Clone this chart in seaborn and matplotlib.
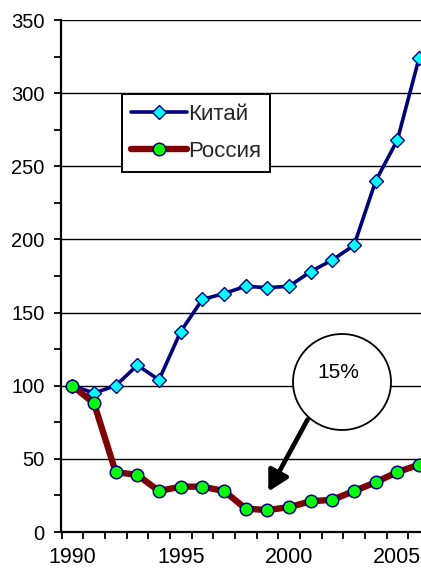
import matplotlib
matplotlib.use("Agg")
import matplotlib.pyplot as plt
from matplotlib.patches import Ellipse
from matplotlib.ticker import FixedLocator, MultipleLocator
import seaborn as sns
import pandas as pd
import numpy as np

years = list(range(1990, 2007))
china = [100, 95, 100, 114, 104, 137, 159, 163, 168, 167, 168, 178, 186, 196, 240, 268, 324]
russia = [100, 88, 41, 39, 28, 31, 31, 28, 16, 15, 17, 21, 22, 28, 34, 41, 46]
year_labels = ["1990", "1995", "2000", "2005"]
callout_text = "15%"

sns.set_theme(style="white")
plt.rcParams["font.family"] = ["Liberation Sans", "DejaVu Sans"]

df = pd.DataFrame({"pos": np.arange(len(years)), "year": years,
                   "Китай": china, "Россия": russia})

fig = plt.figure(figsize=(4.21, 5.72), dpi=100)
W, H = 421, 572
left_px, bottom_px = 61.5, 40
ax = fig.add_axes([left_px / W, bottom_px / H, 368.4 / W, 512 / H])

sns.lineplot(data=df, x="pos", y="Китай", ax=ax, color="#000080", lw=2.6,
             marker="D", markersize=7.5, markerfacecolor="#00FFFF",
             markeredgecolor="#000080", markeredgewidth=1.0, label="Китай", zorder=4)
sns.lineplot(data=df, x="pos", y="Россия", ax=ax, color="#800000", lw=4.6,
             marker="o", markersize=9, markerfacecolor="#00FF00",
             markeredgecolor="#000080", markeredgewidth=1.1, label="Россия", zorder=5)

ax.set_xlim(-0.5, len(years) - 0.5)
ax.set_ylim(0, 350)
ax.set_xlabel("")
ax.set_ylabel("")

# y axis
ax.yaxis.set_major_locator(MultipleLocator(50))
ax.yaxis.set_minor_locator(MultipleLocator(25))
ax.grid(axis="y", which="major", color="black", lw=1.0)
ax.grid(axis="x", visible=False)
ax.tick_params(axis="y", which="both", direction="out", length=5, width=1.3,
               color="black", left=True, labelsize=14.5, pad=7, labelcolor="black")

# x axis: labels under categories, ticks at category boundaries
label_pos = [years.index(int(s)) for s in year_labels]
ax.set_xticks(label_pos)
ax.set_xticklabels(year_labels)
ax.xaxis.set_minor_locator(FixedLocator(np.arange(-0.5, len(years), 1.0)))
ax.tick_params(axis="x", which="major", length=0, labelsize=15.5, pad=11, labelcolor="black")
ax.tick_params(axis="x", which="minor", direction="out", length=5, width=1.3,
               color="black", bottom=True)

for s in ["top", "right"]:
    ax.spines[s].set_visible(False)
for s in ["left", "bottom"]:
    ax.spines[s].set_color("black")
    ax.spines[s].set_linewidth(1.6)
    ax.spines[s].set_zorder(6)

# legend
leg = ax.legend(loc="upper left", bbox_to_anchor=(0.164, 0.855), borderaxespad=0,
                fontsize=16, frameon=True, fancybox=False, framealpha=1,
                edgecolor="black", handlelength=2.5, labelspacing=0.75,
                handletextpad=0.05, borderpad=0.42)
leg.get_frame().set_linewidth(1.4)
leg.set_zorder(10)

# callout
ppx = 368.4 / len(years)  # pixels per category
ppy = 512 / 350.0
def to_data(px, py):
    return (px - left_px) / ppx - 0.5, (532 - py) / ppy

cx, cy = to_data(342, 382)
circ = Ellipse((cx, cy), width=98 / ppx, height=96 / ppy, facecolor="white",
               edgecolor="black", lw=1.3, zorder=7)
ax.add_patch(circ)
tx, ty = to_data(338, 372)
ax.text(tx, ty, callout_text, fontsize=15, ha="center", va="center", zorder=8, color="black")
ax1 = to_data(309, 417)
ax2 = to_data(267, 494)
ax.annotate("", xy=ax2, xytext=ax1,
            arrowprops=dict(arrowstyle="-|>,head_length=1.0,head_width=0.55",
                            color="black", lw=3.4), zorder=8)

fig.savefig("out.png", dpi=100)
